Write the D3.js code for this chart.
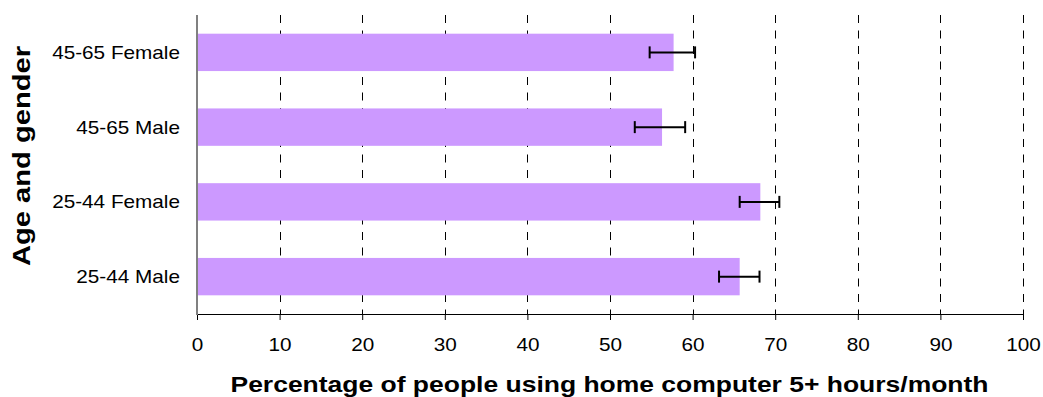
<!DOCTYPE html>
<html>
<head>
<meta charset="utf-8">
<script src="https://cdn.jsdelivr.net/npm/d3@7"></script>
<style>
  html, body { margin: 0; padding: 0; background: #fff; }
  svg { display: block; }
  text { font-family: "Liberation Sans", Arial, sans-serif; fill: #000; }
</style>
</head>
<body>
<svg id="chart" width="1043" height="397"></svg>
<script>
// ---- data ----
const categories = ["45-65 Female", "45-65 Male", "25-44 Female", "25-44 Male"];
const values     = [57.7, 56.3, 68.2, 65.7];
const errLow     = [54.8, 53.0, 65.7, 63.2];
const errHigh    = [60.3, 59.1, 70.5, 68.1];
const xTicks     = [0, 10, 20, 30, 40, 50, 60, 70, 80, 90, 100];
const xTitle = "Percentage of people using home computer 5+ hours/month";
const yTitle = "Age and gender";

// ---- layout ----
const svg = d3.select("#chart");
const plotLeft = 197, plotRight = 1023, plotTop = 15, plotBottom = 314;
const stretch = 1.12;

const x = d3.scaleLinear().domain([0, 100]).range([plotLeft, plotRight]);
const y = d3.scaleBand().domain(categories).range([plotTop, plotBottom]).paddingInner(0.5).paddingOuter(0.25);

function stretchText(sel, f) {
  sel.each(function () {
    const w = this.getComputedTextLength();
    d3.select(this).attr("textLength", w * f).attr("lengthAdjust", "spacingAndGlyphs");
  });
}

// gridlines
svg.append("g").selectAll("line")
  .data(xTicks.filter(d => d > 0))
  .join("line")
  .attr("x1", d => Math.round(x(d)) + 0.5).attr("x2", d => Math.round(x(d)) + 0.5)
  .attr("y1", plotTop).attr("y2", plotBottom)
  .attr("stroke", "#000").attr("stroke-width", 1)
  .attr("stroke-dasharray", "8,7.5");

// bars
svg.append("g").selectAll("rect")
  .data(categories)
  .join("rect")
  .attr("x", x(0))
  .attr("y", d => y(d))
  .attr("width", (d, i) => x(values[i]) - x(0))
  .attr("height", y.bandwidth())
  .attr("fill", "#CC99FF");

// error bars
const eg = svg.append("g").attr("stroke", "#000").attr("stroke-width", 2);
categories.forEach((c, i) => {
  const cy = y(c) + y.bandwidth() / 2;
  eg.append("line").attr("x1", x(errLow[i])).attr("x2", x(errHigh[i])).attr("y1", cy).attr("y2", cy);
  eg.append("line").attr("x1", x(errLow[i])).attr("x2", x(errLow[i])).attr("y1", cy - 6).attr("y2", cy + 6);
  eg.append("line").attr("x1", x(errHigh[i])).attr("x2", x(errHigh[i])).attr("y1", cy - 6).attr("y2", cy + 6);
});

// x axis
const xAxis = svg.append("g")
  .attr("transform", `translate(0,${plotBottom})`)
  .call(d3.axisBottom(x).tickValues(xTicks).tickSize(6).tickPadding(18).tickSizeOuter(0));
xAxis.select(".domain").attr("stroke", "#000").attr("stroke-width", 1);
xAxis.selectAll(".tick line").attr("stroke", "#000");
xAxis.selectAll(".tick text")
  .style("font-size", "18.5px")
  .style("font-family", "'Liberation Sans', Arial, sans-serif")
  .attr("fill", "#000")
  .call(stretchText, stretch);

// y axis line
svg.append("line")
  .attr("x1", plotLeft).attr("x2", plotLeft).attr("y1", plotTop).attr("y2", plotBottom + 1)
  .attr("stroke", "#808080").attr("stroke-width", 2);

// category labels
svg.append("g").selectAll("text")
  .data(categories)
  .join("text")
  .attr("x", plotLeft - 17)
  .attr("y", d => y(d) + y.bandwidth() / 2)
  .attr("dy", "0.35em")
  .attr("text-anchor", "end")
  .style("font-size", "18.5px")
  .text(d => d)
  .call(stretchText, stretch);

// x title
svg.append("text")
  .attr("x", 609.5).attr("y", 392)
  .attr("text-anchor", "middle")
  .style("font-size", "22px").style("font-weight", "bold")
  .text(xTitle)
  .attr("textLength", 758).attr("lengthAdjust", "spacingAndGlyphs");

// y title
svg.append("text")
  .attr("transform", "translate(30,156) rotate(-90)")
  .attr("text-anchor", "middle")
  .style("font-size", "23px").style("font-weight", "bold")
  .text(yTitle)
  .attr("textLength", 220).attr("lengthAdjust", "spacingAndGlyphs");
</script>
</body>
</html>
